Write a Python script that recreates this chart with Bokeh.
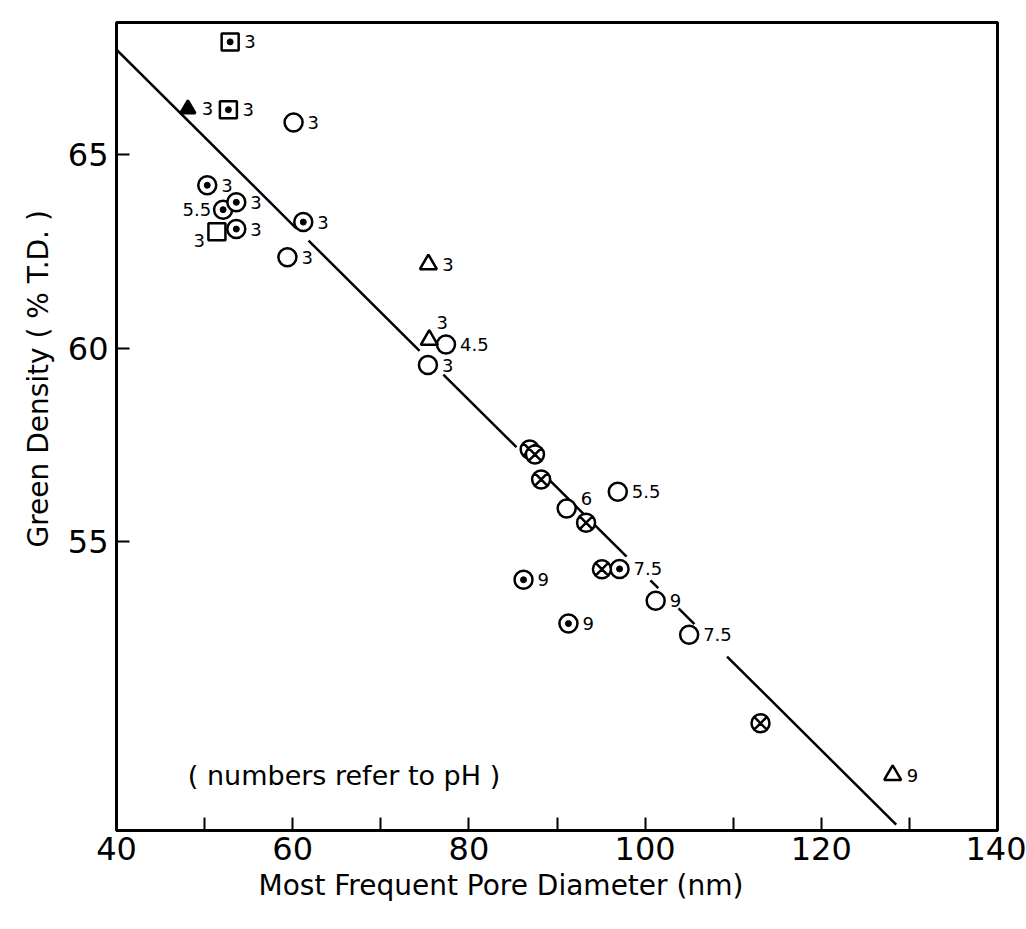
import numpy as np
from bokeh.plotting import figure
from bokeh.models import ColumnDataSource, FixedTicker, Title, Range1d
from bokeh.core.properties import value
from bokeh.embed import file_html
from bokeh.resources import INLINE

# ---------------- data ----------------
x_ticks = [40, 60, 80, 100, 120, 140]
x_minor_ticks = [50, 70, 90, 110, 130]
y_ticks = [55, 60, 65]

# open circles
open_circle_d = [60.1, 59.4, 77.4, 75.35, 91.1, 96.9, 101.2, 105.0]
open_circle_gd = [65.82, 62.34, 60.09, 59.56, 55.86, 56.29, 53.48, 52.6]
open_circle_ph = ["3", "3", "4.5", "3", "6", "5.5", "9", "7.5"]
open_circle_side = ["r", "r", "r", "r", "ur", "r", "r", "r"]

# circles with a central dot
dot_circle_d = [50.3, 52.1, 53.6, 53.6, 61.2, 97.1, 86.2, 91.3]
dot_circle_gd = [64.2, 63.57, 63.76, 63.07, 63.25, 54.30, 54.02, 52.89]
dot_circle_ph = ["3", "5.5", "3", "3", "3", "7.5", "9", "9"]
dot_circle_side = ["r", "l", "r", "r", "r", "r", "r", "r"]

# crossed circles (no pH label)
cross_circle_d = [86.9, 87.5, 88.2, 93.3, 95.1, 113.1]
cross_circle_gd = [57.38, 57.25, 56.61, 55.49, 54.29, 50.32]

# squares with a central dot
dot_square_d = [52.9, 52.7]
dot_square_gd = [67.9, 66.15]
dot_square_ph = ["3", "3"]
dot_square_side = ["r", "r"]

# open square
open_square_d = [51.4]
open_square_gd = [63.0]
open_square_ph = ["3"]
open_square_side = ["lb"]

# open triangles
open_tri_d = [75.4, 75.5, 128.1]
open_tri_gd = [62.16, 60.21, 48.98]
open_tri_ph = ["3", "3", "9"]
open_tri_side = ["r", "a", "r"]

# filled triangle
filled_tri_d = [48.1]
filled_tri_gd = [66.17]
filled_tri_ph = ["3"]
filled_tri_side = ["r"]

# fitted straight line (end points) and the breaks drawn in it
fit_d = [40.0, 128.5]
fit_gd = [67.7, 47.7]
fit_breaks = [(60.4, 61.8), (74.4, 77.1), (85.4, 88.9), (97.9, 100.6),
              (101.5, 103.8), (105.6, 109.3)]

note_text = "( numbers refer to pH )"
note_pos = (48.1, 48.97)

# ---------------- figure ----------------
FONT = "DejaVu Sans"
p = figure(width=1026, height=929, output_backend="svg", toolbar_location=None,
           x_range=Range1d(40, 140), y_range=Range1d(47.55, 68.4),
           min_border_left=116, min_border_right=29, min_border_top=22,
           min_border_bottom=99)
p.background_fill_color = "white"
p.border_fill_color = "white"
p.outline_line_color = "black"
p.outline_line_width = 3
p.xgrid.visible = False
p.ygrid.visible = False

xa = p.xaxis[0]
xa.ticker = FixedTicker(ticks=x_ticks, minor_ticks=x_minor_ticks)
xa.axis_line_width = 3
xa.major_tick_in = 13
xa.major_tick_out = 0
xa.minor_tick_in = 13
xa.minor_tick_out = 0
xa.major_tick_line_width = 2
xa.minor_tick_line_width = 2
xa.major_label_standoff = 6
xa.major_label_text_font = FONT
xa.major_label_text_font_size = "32px"
xa.major_label_text_color = "black"

ya = p.yaxis[0]
ya.ticker = FixedTicker(ticks=y_ticks, minor_ticks=[])
ya.axis_line_width = 3
ya.major_tick_in = 13
ya.major_tick_out = 0
ya.minor_tick_in = 0
ya.minor_tick_out = 0
ya.major_tick_line_width = 2
ya.major_label_standoff = 8
ya.major_label_text_font = FONT
ya.major_label_text_font_size = "32px"
ya.major_label_text_color = "black"
ya.major_label_orientation = "horizontal"

p.add_layout(Title(text="Most Frequent Pore Diameter (nm)", align="left",
                   offset=142, standoff=8, text_font=FONT, text_font_size="28px",
                   text_font_style="normal", text_color="black"), "below")
p.add_layout(Title(text="Green Density ( % T.D. )", align="left",
                   offset=283, standoff=20, text_font=FONT, text_font_size="28px",
                   text_font_style="normal", text_color="black"), "left")

# fitted line with breaks
edges = [fit_d[0]] + [v for b in fit_breaks for v in b] + [fit_d[1]]
seg_x, seg_y = [], []
for a, b in zip(edges[0::2], edges[1::2]):
    seg_x.append([a, b])
    seg_y.append(list(np.interp([a, b], fit_d, fit_gd)))
p.multi_line(seg_x, seg_y, line_color="black", line_width=2.5)

# markers
MW = 2.5
p.scatter(open_circle_d, open_circle_gd, marker="circle", size=18,
          fill_color="white", line_color="black", line_width=MW)
p.scatter(dot_circle_d, dot_circle_gd, marker="circle_dot", size=18,
          fill_color="white", line_color="black", line_width=MW)
p.scatter(dot_circle_d, dot_circle_gd, marker="circle", size=6,
          fill_color="black", line_color="black", line_width=1)
p.scatter(cross_circle_d, cross_circle_gd, marker="circle_x", size=18,
          fill_color="white", line_color="black", line_width=MW)
p.scatter(dot_square_d, dot_square_gd, marker="square", size=17,
          fill_color="white", line_color="black", line_width=MW)
p.scatter(dot_square_d, dot_square_gd, marker="circle", size=6,
          fill_color="black", line_color="black", line_width=1)
p.scatter(open_square_d, open_square_gd, marker="square", size=17,
          fill_color="white", line_color="black", line_width=MW)
p.scatter(open_tri_d, open_tri_gd, marker="triangle", size=17,
          fill_color="white", line_color="black", line_width=MW)
p.scatter(filled_tri_d, filled_tri_gd, marker="triangle", size=15,
          fill_color="black", line_color="black", line_width=MW)

# pH labels
OFFSETS = {"r": (14, 0, "left"), "l": (-12, 0, "right"), "lb": (-12, 9, "right"),
           "a": (13, -17, "center"), "ur": (14, -10, "left")}


def add_labels(xs, ys, labels, sides):
    src = ColumnDataSource(dict(
        x=xs, y=ys, t=labels,
        dx=[OFFSETS[s][0] for s in sides],
        dy=[OFFSETS[s][1] for s in sides],
        al=[OFFSETS[s][2] for s in sides]))
    p.text("x", "y", text="t", x_offset="dx", y_offset="dy", text_align="al",
           text_baseline="middle", text_font=value(FONT), text_font_size="18px",
           text_color="black", source=src)


add_labels(open_circle_d, open_circle_gd, open_circle_ph, open_circle_side)
add_labels(dot_circle_d, dot_circle_gd, dot_circle_ph, dot_circle_side)
add_labels(dot_square_d, dot_square_gd, dot_square_ph, dot_square_side)
add_labels(open_square_d, open_square_gd, open_square_ph, open_square_side)
add_labels(open_tri_d, open_tri_gd, open_tri_ph, open_tri_side)
add_labels(filled_tri_d, filled_tri_gd, filled_tri_ph, filled_tri_side)

p.text([note_pos[0]], [note_pos[1]], text=[note_text], text_align="left",
       text_baseline="middle", text_font=value(FONT), text_font_size="27px",
       text_color="black")

open("out.html", "w").write(file_html(p, INLINE))
